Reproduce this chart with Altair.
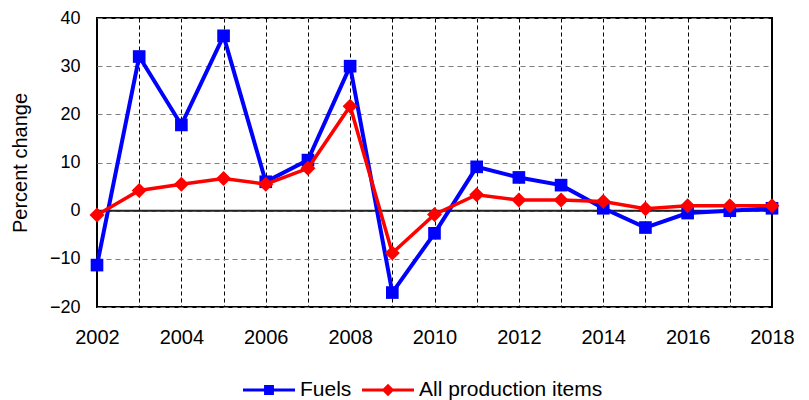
import altair as alt
import pandas as pd

years = list(range(2002, 2019))
fuels = [-11.3, 32.0, 17.8, 36.3, 6.0, 10.5, 30.0, -17.0, -4.7, 9.1, 6.9, 5.3, 0.5, -3.5, -0.5, 0.0, 0.5]
all_items = [-0.9, 4.2, 5.5, 6.7, 5.5, 8.8, 21.7, -8.8, -0.8, 3.3, 2.2, 2.2, 1.9, 0.4, 1.0, 1.0, 1.0]
series_names = ["Fuels", "All production items"]
series_colors = ["#0000FF", "#FF0000"]
y_ticks = [-20, -10, 0, 10, 20, 30, 40]
zero_line = [0]

FONT = "Liberation Sans"

df = pd.DataFrame({
    "year": years * 2,
    "value": fuels + all_items,
    "series": [series_names[0]] * len(years) + [series_names[1]] * len(years),
})

xscale = alt.Scale(domain=[years[0], years[-1]], nice=False, zero=False)
yscale = alt.Scale(domain=[y_ticks[0], y_ticks[-1]], nice=False, zero=False)

xaxis = alt.Axis(values=years, grid=True, gridColor="#000000", gridDash=[4, 3], gridWidth=1,
                 labelExpr="datum.value % 2 == 0 ? datum.label : ''", format="d",
                 ticks=False, domain=False, labelPadding=20, labelFontSize=20,
                 labelFont=FONT, labelColor="#000000", title=None, labelFlush=False)
yaxis = alt.Axis(values=y_ticks, grid=True, gridColor="#7f7f7f", gridDash=[5, 4], gridWidth=1,
                 ticks=False, domain=False, labelPadding=17, labelFontSize=18, labelFont=FONT,
                 labelColor="#000000", title="Percent change", titleFontSize=20, titleFont=FONT,
                 titleFontWeight="normal", titleColor="#000000", titlePadding=19)

base = alt.Chart(df).encode(
    x=alt.X("year:Q", scale=xscale, axis=xaxis),
    y=alt.Y("value:Q", scale=yscale, axis=yaxis),
)

zero = alt.Chart(pd.DataFrame({"v": zero_line})).mark_rule(color="#222222", strokeWidth=2).encode(
    y=alt.Y("v:Q", scale=yscale, axis=yaxis)
)

layers = [zero]
marker_shapes = ["square", "diamond"]
marker_sizes = [160, 225]
line_widths = [4, 3.5]
for name, col, shp, sz, lw in zip(series_names, series_colors, marker_shapes, marker_sizes, line_widths):
    sub = base.transform_filter(alt.datum.series == name)
    layers.append(sub.mark_line(color=col, strokeWidth=lw))
    layers.append(sub.mark_point(color=col, filled=True, opacity=1, shape=shp, size=sz))

legend_paths = [
    "M-1,-0.058H1V0.058H-1Z M-0.19,-0.19H0.19V0.19H-0.19Z",
    "M-1,-0.058H1V0.058H-1Z M0,-0.24L0.24,0L0,0.24L-0.24,0Z",
]

leg = alt.Legend(title=None, orient="none", direction="horizontal", legendX=146, legendY=346,
                 symbolSize=2704, symbolOpacity=1, symbolStrokeWidth=0,
                 labelFontSize=21, labelFont=FONT, labelColor="#000000", labelLimit=400,
                 labelOffset=5, columnPadding=10)

legend_layer = base.mark_point(filled=True, opacity=0).encode(
    color=alt.Color("series:N", scale=alt.Scale(domain=series_names, range=series_colors), legend=leg),
    shape=alt.Shape("series:N", scale=alt.Scale(domain=series_names, range=legend_paths), legend=leg),
)
layers.append(legend_layer)

chart = alt.layer(*layers).properties(
    width=675, height=289,
    autosize=alt.AutoSizeParams(type="none"),
    padding={"left": 89, "top": 10, "right": 29, "bottom": 93},
    background="white",
).configure_view(stroke="#000000", strokeWidth=2)

chart.save("out.html", embed_options={"renderer": "svg", "actions": False})
